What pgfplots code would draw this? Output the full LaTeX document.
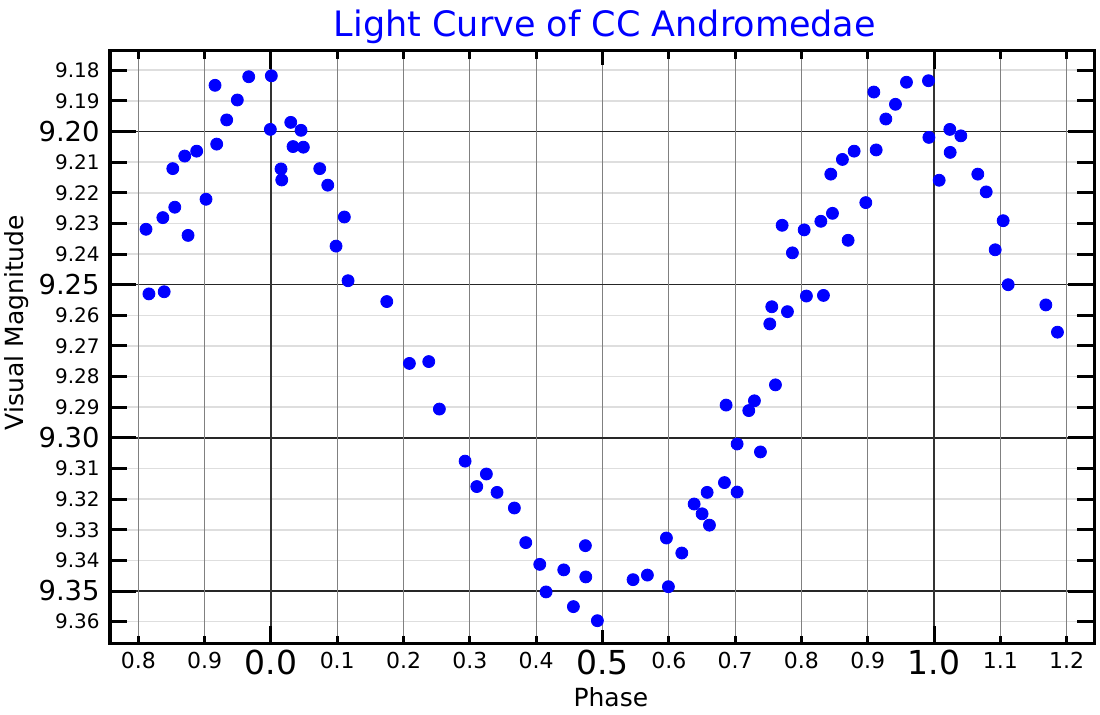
\documentclass[border=0pt]{standalone}
\usepackage{fontspec}
\setmainfont{DejaVu Sans}
\usepackage{pgfplots}
\pgfplotsset{compat=1.18}
\definecolor{ccblue}{HTML}{0000FF}

\pgfplotsset{
  ccframe/.style={
    at={(0,0)}, anchor=south west, scale only axis,
    width=492pt, height=296.5pt,
    xmin=-0.2427, xmax=1.2412, ymin=9.1737, ymax=9.3673, y dir=reverse,
    axis line style={line width=1.5pt},
    tick align=inside,
    tick style={line width=1.5pt, black},
    clip=false,
  }
}

\begin{document}
\begin{tikzpicture}
\useasboundingbox (-55pt,-35.5pt) rectangle (495pt,322pt);
% y ticks, y grid, phase 0.5 tick
\begin{axis}[ccframe,
  xtick=\empty,
  major tick length=8.5pt,
  ytick={9.18,9.19,9.21,9.22,9.23,9.24,9.26,9.27,9.28,9.29,9.31,9.32,9.33,9.34,9.36},
  yticklabels={9.18,9.19,9.21,9.22,9.23,9.24,9.26,9.27,9.28,9.29,9.31,9.32,9.33,9.34,9.36},
  ymajorgrids,
  major grid style={black!13, line width=0.8pt},
  extra y ticks={9.20,9.25,9.30,9.35},
  extra y tick labels={9.20,9.25,9.30,9.35},
  extra y tick style={ymajorgrids, major grid style={black!85, line width=0.7pt},
    major tick length=13pt,
    yticklabel style={font=\fontsize{13.7}{15}\selectfont}},
  yticklabel style={font=\fontsize{10}{12}\selectfont, inner sep=0pt, xshift=-5pt},
  extra x ticks={0.5},
  extra x tick labels={0.5},
  extra x tick style={xmajorgrids, major grid style={black!50, line width=0.6pt},
    major tick length=7pt,
    xticklabel style={font=\fontsize{16.5}{18}\selectfont, inner sep=0pt, yshift=-3pt}},
  ylabel={Visual Magnitude},
  ylabel style={font=\fontsize{12.5}{14}\selectfont, at={(axis description cs:-0.0945,0.542)}, anchor=center},
]
\end{axis}
% x ticks, x grid, data
\begin{axis}[ccframe,
  ytick=\empty,
  major tick length=4pt,
  xtick={-0.2,-0.1,0.1,0.2,0.3,0.4,0.6,0.7,0.8,0.9,1.1,1.2},
  xticklabels={0.8,0.9,0.1,0.2,0.3,0.4,0.6,0.7,0.8,0.9,1.1,1.2},
  xmajorgrids,
  major grid style={black!50, line width=0.6pt},
  extra x ticks={0,1},
  extra x tick labels={0.0,1.0},
  extra x tick style={xmajorgrids, major grid style={black!80, line width=0.9pt},
    major tick length=9pt,
    xticklabel style={font=\fontsize{16.5}{18}\selectfont, yshift=1pt}},
  xticklabel style={font=\fontsize{11}{13}\selectfont, inner sep=0pt, yshift=-4pt},
  xlabel={Phase},
  xlabel style={font=\fontsize{12.5}{14}\selectfont, at={(axis description cs:0.509,-0.0894)}, anchor=center},
  title={Light Curve of CC Andromedae},
  every axis title shift=0pt,
  title style={font=\fontsize{17.5}{20}\selectfont, text=ccblue, at={(axis description cs:0.503,1.0405)}, anchor=center},
]
\addplot[only marks, mark=*, mark size=3pt, color=ccblue, mark options={draw=ccblue, fill=ccblue}] coordinates {
(-0.1884,9.2319) (-0.184,9.2530) (-0.161,9.2523) (-0.163,9.2281) (-0.148,9.2121)
(-0.145,9.2247) (-0.130,9.2080) (-0.125,9.2339) (-0.112,9.2064) (-0.0979,9.2221)
(-0.0843,9.1849) (-0.0818,9.2041) (-0.0667,9.1962) (-0.0507,9.1897) (-0.0335,9.1821)
(0.0006,9.1818) (-0.0009,9.1993) (0.0152,9.2122) (0.0163,9.2158) (0.0299,9.1970)
(0.0333,9.2049) (0.0454,9.1996) (0.0489,9.2051) (0.0736,9.2121) (0.0857,9.2175)
(0.1107,9.2279) (0.0982,9.2374) (0.1163,9.2487) (0.1747,9.2555) (0.2088,9.2757)
(0.238,9.2751) (0.254,9.2906) (0.2928,9.3076) (0.3104,9.3159) (0.3249,9.3118)
(0.341,9.3178) (0.3671,9.3229) (0.3843,9.3342) (0.4054,9.3413) (0.4149,9.3503)
(0.4416,9.3431) (0.4561,9.3551) (0.4742,9.3352) (0.4748,9.3454) (0.4923,9.3597)
(0.5461,9.3463) (0.5677,9.3448) (0.5964,9.3327) (0.5994,9.3486) (0.6196,9.3376)
(0.6382,9.3216) (0.6502,9.3248) (0.6578,9.3178) (0.6613,9.3285) (0.6839,9.3146)
(0.6864,9.2893) (0.703,9.3020) (0.703,9.3177) (0.7206,9.2911) (0.7291,9.2879)
(0.7382,9.3046) (0.7553,9.2572) (0.7523,9.2628) (0.7608,9.2827) (0.7709,9.2306)
(0.7789,9.2588) (0.7864,9.2396) (0.8041,9.2321) (0.8075,9.2537) (0.8293,9.2293)
(0.8332,9.2535) (0.8443,9.2139) (0.8468,9.2267) (0.8618,9.2091) (0.8704,9.2355)
(0.8795,9.2064) (0.8971,9.2232) (0.9092,9.1871) (0.9127,9.2060) (0.9273,9.1959)
(0.9418,9.1911) (0.9584,9.1839) (0.9916,9.1834) (0.9922,9.2019) (1.0077,9.2159)
(1.0238,9.1993) (1.0243,9.2068) (1.0404,9.2014) (1.066,9.2139) (1.0786,9.2197)
(1.1042,9.2291) (1.0922,9.2386) (1.1118,9.2500) (1.1686,9.2566) (1.1861,9.2655)
};
\end{axis}
\end{tikzpicture}
\end{document}
